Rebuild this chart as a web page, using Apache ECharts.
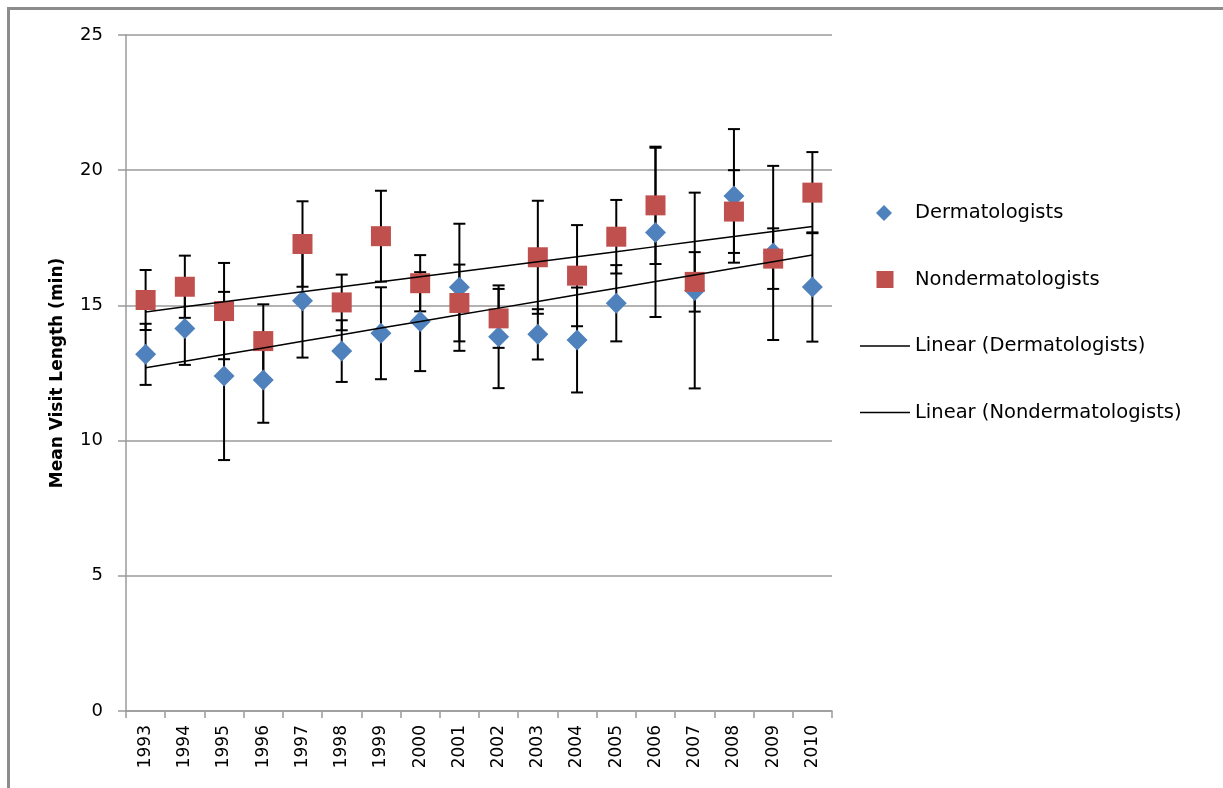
<!DOCTYPE html>
<html>
<head>
<meta charset="utf-8">
<script src="https://cdn.jsdelivr.net/npm/echarts@6/dist/echarts.min.js"></script>
<style>
html,body{margin:0;padding:0;background:#fff;}
#c{width:1223px;height:788px;}
</style>
</head>
<body>
<div id="c"></div>
<script>
var years = ['1993','1994','1995','1996','1997','1998','1999','2000','2001','2002','2003','2004','2005','2006','2007','2008','2009','2010'];
var dermMean = [13.19,14.15,12.39,12.24,15.17,13.31,13.97,14.40,15.67,13.84,13.93,13.72,15.08,17.70,15.55,19.05,16.94,15.68];
var dermErr  = [1.13, 1.35, 3.11, 1.58, 2.10, 1.14, 1.70, 1.83, 2.35, 1.90, 0.93, 1.94, 1.41, 3.13, 3.62, 2.47, 3.22, 2.02];
var nonMean  = [15.20,15.69,14.79,13.68,17.27,15.11,17.56,15.82,15.09,14.52,16.78,16.10,17.54,18.70,15.87,18.47,16.73,19.17];
var nonErr   = [1.11, 1.15, 1.78, 1.36, 1.58, 1.03, 1.68, 1.04, 1.42, 1.09, 2.09, 1.87, 1.36, 2.17, 1.10, 1.53, 1.12, 1.50];
var yTicks = [0,5,10,15,20,25];

var BLUE = '#4F81BD', RED = '#C0504D', GRIDC = '#9a9a9a';

function linFit(vals){
  var n = vals.length, sx=0, sy=0, sxx=0, sxy=0;
  for (var i=0;i<n;i++){ sx+=i; sy+=vals[i]; sxx+=i*i; sxy+=i*vals[i]; }
  var b = (n*sxy - sx*sy)/(n*sxx - sx*sx);
  var a = (sy - b*sx)/n;
  var out = [];
  for (var j=0;j<n;j++) out.push(+(a+b*j).toFixed(4));
  return out;
}
var dermTrend = linFit(dermMean);
var nonTrend = linFit(nonMean);

function errData(mean, err){
  return mean.map(function(m,i){ return [i, m-err[i], m+err[i]]; });
}

function errRender(params, api){
  var x = api.value(0);
  var lo = api.coord([x, api.value(1)]);
  var hi = api.coord([x, api.value(2)]);
  var hw = 6;
  var st = {stroke:'#000', lineWidth:2};
  return {type:'group', children:[
    {type:'line', shape:{x1:lo[0],y1:lo[1],x2:hi[0],y2:hi[1]}, style:st},
    {type:'line', shape:{x1:lo[0]-hw,y1:lo[1],x2:lo[0]+hw,y2:lo[1]}, style:st},
    {type:'line', shape:{x1:hi[0]-hw,y1:hi[1],x2:hi[0]+hw,y2:hi[1]}, style:st}
  ]};
}

var FONT = 'DejaVu Sans';
var chart = echarts.init(document.getElementById('c'), null, {renderer:'canvas'});
var legY0 = 213, legGap = 66.5;
var option = {
  animation:false,
  backgroundColor:'#fff',
  textStyle:{fontFamily:FONT},
  grid:{left:126, right:391, top:35, bottom:77, containLabel:false},
  xAxis:{
    type:'category', data:years, boundaryGap:true,
    axisLine:{show:true, lineStyle:{color:GRIDC, width:1.5}},
    axisTick:{show:true, length:7, alignWithLabel:false, lineStyle:{color:GRIDC, width:1.5}},
    axisLabel:{rotate:90, margin:14, color:'#000', fontSize:17, fontFamily:FONT},
    splitLine:{show:false}
  },
  yAxis:{
    type:'value', min:0, max:25, interval:5,
    name:'Mean Visit Length (min)', nameLocation:'middle', nameGap:60,
    nameTextStyle:{fontWeight:'bold', fontSize:17, color:'#000', fontFamily:FONT},
    axisLine:{show:true, lineStyle:{color:GRIDC, width:1.5}},
    axisTick:{show:true, length:8, lineStyle:{color:GRIDC, width:1.5}},
    axisLabel:{margin:23, color:'#000', fontSize:18, fontFamily:FONT,
      formatter:function(v){ return yTicks.indexOf(v)>=0 ? String(v) : ''; }},
    splitLine:{show:true, lineStyle:{color:GRIDC, width:1.5}}
  },
  series:[
    {name:'DermErr', type:'custom', data:errData(dermMean, dermErr), renderItem:errRender, z:2, silent:true},
    {name:'NonErr', type:'custom', data:errData(nonMean, nonErr), renderItem:errRender, z:2, silent:true},
    {name:'Dermatologists', type:'scatter', data:dermMean, symbol:'diamond', symbolSize:[21,21],
      itemStyle:{color:BLUE, opacity:1}, z:3},
    {name:'Nondermatologists', type:'scatter', data:nonMean, symbol:'rect', symbolSize:[20,20],
      itemStyle:{color:RED, opacity:1}, z:4},
    {name:'Linear (Dermatologists)', type:'line', data:dermTrend, symbol:'none',
      lineStyle:{color:'#000', width:1.5}, z:5},
    {name:'Linear (Nondermatologists)', type:'line', data:nonTrend, symbol:'none',
      lineStyle:{color:'#000', width:1.5}, z:5}
  ],
  graphic:[
    {type:'line', shape:{x1:7, y1:8.5, x2:1223, y2:8.5}, style:{stroke:'#8c8c8c', lineWidth:3}},
    {type:'line', shape:{x1:8.5, y1:7, x2:8.5, y2:788}, style:{stroke:'#8c8c8c', lineWidth:3}},
    {type:'polygon', shape:{points:[[884,legY0-8],[892,legY0],[884,legY0+8],[876,legY0]]}, style:{fill:BLUE}},
    {type:'text', left:915, top:legY0-10, style:{text:'Dermatologists', fontSize:19.5, fontFamily:FONT, fill:'#000'}},
    {type:'rect', shape:{x:876.5, y:legY0+legGap-8.5, width:17, height:17}, style:{fill:RED}},
    {type:'text', left:915, top:legY0+legGap-10, style:{text:'Nondermatologists', fontSize:19.5, fontFamily:FONT, fill:'#000'}},
    {type:'line', shape:{x1:860, y1:legY0+2*legGap, x2:910, y2:legY0+2*legGap}, style:{stroke:'#000', lineWidth:1.5}},
    {type:'text', left:915, top:legY0+2*legGap-10, style:{text:'Linear (Dermatologists)', fontSize:19.5, fontFamily:FONT, fill:'#000'}},
    {type:'line', shape:{x1:860, y1:legY0+3*legGap, x2:910, y2:legY0+3*legGap}, style:{stroke:'#000', lineWidth:1.5}},
    {type:'text', left:915, top:legY0+3*legGap-10, style:{text:'Linear (Nondermatologists)', fontSize:19.5, fontFamily:FONT, fill:'#000'}}
  ]
};
chart.setOption(option);
</script>
</body>
</html>
